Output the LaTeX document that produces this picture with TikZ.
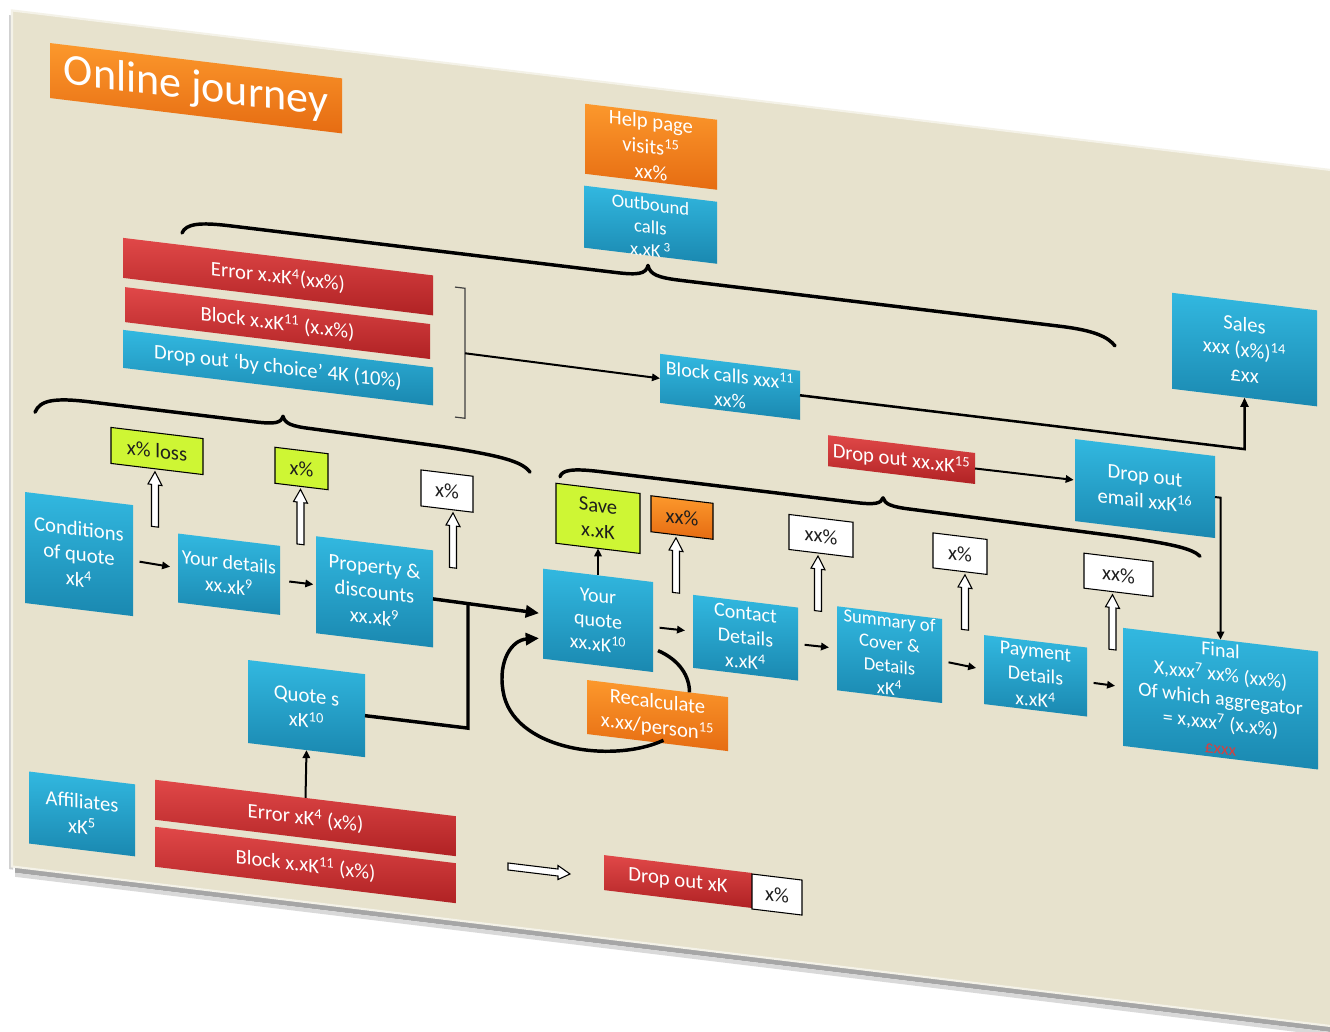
\documentclass[tikz,border=0pt]{standalone}
\usepackage{fontspec}
\setmainfont{Carlito}
\usetikzlibrary{arrows.meta,calc}
\definecolor{beige}{RGB}{231,226,205}
\definecolor{bluetop}{RGB}{50,184,224}
\definecolor{bluebot}{RGB}{26,136,176}
\definecolor{redtop}{RGB}{224,72,72}
\definecolor{redbot}{RGB}{176,34,36}
\definecolor{orgtop}{RGB}{252,152,44}
\definecolor{orgbot}{RGB}{230,108,18}
\definecolor{limeg}{RGB}{206,246,52}
\definecolor{inktxt}{RGB}{30,30,30}
\definecolor{pricered}{RGB}{214,64,64}

% box: style, name, x, y, w, h, text style, text
\newcommand\BX[8]{%
  \node[#1, minimum width=#5*0.75pt, minimum height=#6*0.75pt, anchor=north west] (#2) at (#3,#4) {};
  \node[#7] (#2-t) at (#2.center) {#8};}
% hollow up arrow under a percentage box: box name, x offset
\newcommand\HUP[2]{%
  \draw[hollow] ($(#1.south)+(#2,3)$) -- ++(7,13) -- ++(-3.5,0) -- ++(0,42) -- ++(-7,0) -- ++(0,-42) -- ++(-3.5,0) -- cycle;}

\tikzset{
  box/.style={rectangle, inner sep=0pt, outer sep=0pt},
  bluebox/.style={box, top color=bluetop, bottom color=bluebot},
  redbox/.style={box, top color=redtop, bottom color=redbot},
  orgbox/.style={box, top color=orgtop, bottom color=orgbot},
  limebox/.style={box, fill=limeg, draw=black, line width=0.8pt},
  whitebox/.style={box, fill=white, draw=black, line width=0.8pt},
  orgpbox/.style={box, top color=orgtop, bottom color=orgbot, draw=black, line width=0.8pt},
  wt/.style={inner sep=0pt, text=white, align=center, font=\fontsize{15.5}{19}\selectfont},
  wtm/.style={wt, font=\fontsize{15}{18.3}\selectfont},
  wtt/.style={wt, font=\fontsize{14}{17.1}\selectfont},
  bt/.style={inner sep=0pt, text=inktxt, align=center, font=\fontsize{15.5}{19}\selectfont},
  thinarrow/.style={line width=1.5pt, -{Triangle[length=6pt,width=5.5pt]}},
  rowarrow/.style={thinarrow, shorten <=5pt, shorten >=6pt},
  thickline/.style={line width=2.6pt},
  bigarrow/.style={thickline, -{Triangle[length=10pt,width=9pt]}},
  bracecurve/.style={line width=2.6pt, line cap=round, line join=round},
  hollow/.style={fill=white, draw=black, line width=0.8pt},
  bracketline/.style={draw=black!75, line width=0.9pt},
}

\begin{document}
\begin{tikzpicture}[x=0.75pt,y=-0.75pt]
\useasboundingbox (0,0) rectangle (1330,1031);
\clip (0,0) rectangle (1330,1031);
\fill[white] (0,0) rectangle (1330,1031);
\begin{scope}[cm={1,-0.121,0,1,(0,0)}, transform shape]
  % slide and its shadow
  \fill[black!35] (15,860) rectangle (1420,871);
  \fill[black!15] (15,871) rectangle (1420,875);
  \fill[black!18] (9,14) rectangle (13,868);
  \filldraw[fill=beige, draw=white!55!beige, line width=1.6pt] (12,9) rectangle (1420,865);

  % braces
  \draw[bracecurve] (182,211) .. controls (186,201) and (200,198) .. (230,198) -- (615,198)
     .. controls (638,198) and (646,196) .. (648,187) .. controls (650,196) and (658,198) .. (681,198)
     -- (1060,198) .. controls (1095,198) and (1108,203) .. (1115,211);
  \draw[bracecurve] (35,408) .. controls (40,395) and (55,391) .. (90,391) -- (255,391)
     .. controls (275,391) and (281,389) .. (283,382) .. controls (285,389) and (291,391) .. (311,391)
     -- (440,393) .. controls (500,395) and (522,398) .. (530,408);
  \draw[bracecurve] (560,409) .. controls (562,402) and (572,399) .. (600,399) -- (855,399)
     .. controls (875,399) and (881,397) .. (883,391) .. controls (885,397) and (891,399) .. (911,399)
     -- (1120,401) .. controls (1170,402) and (1192,404) .. (1200,411);

  % bracket
  \draw[bracketline] (455,232) -- (465,232) -- (465,362) -- (455,362);
  \coordinate (brk) at (465,297);

  % boxes
  \BX{orgbox}{title}{50}{37}{292}{55}{wt, font=\fontsize{33}{36}\selectfont}{Online journey}
  \BX{orgbox}{help}{585}{33}{132}{70}{wt}{Help page\\visits\textsuperscript{15}\\xx\%}
  \BX{bluebox}{outb}{584}{115}{133}{62}{wtt, yshift=-2pt}{Outbound\\calls\\x.xK\,\textsuperscript{3}}
  \BX{bluebox}{sales}{1172}{151}{145}{96}{wt}{Sales\\xxx (x\%)\textsuperscript{14}\\£xx}
  \BX{redbox}{err1}{123}{223}{310}{40}{wt}{Error x.xK\textsuperscript{4}(xx\%)}
  \BX{redbox}{blk1}{125}{272}{305}{35}{wt}{Block x.xK\textsuperscript{11} (x.x\%)}
  \BX{bluebox}{drop1}{123}{315}{310}{38}{wt}{Drop out ‘by choice’ 4K (10\%)}
  \BX{bluebox}{blkc}{660}{274}{140}{49}{wtm}{Block calls xxx\textsuperscript{11}\\xx\%}
  \BX{redbox}{dxk}{828}{335}{147}{31}{wt}{Drop out xx.xK\textsuperscript{15}}
  \BX{bluebox}{dem}{1075}{309}{140}{82}{wt}{Drop out\\email xxK\textsuperscript{16}}
  \BX{bluebox}{final}{1123}{492}{195}{118}{wtm}{Final\\X,xxx\textsuperscript{7} xx\% (xx\%)\\Of which aggregator\\= x,xxx\textsuperscript{7} (x.x\%)\\{\color{pricered}\fontsize{13}{18}\selectfont £xxx}}
  \BX{bluebox}{cond}{25}{489}{108}{111}{wt}{Conditions\\of quote\\xk\textsuperscript{4}}
  \BX{bluebox}{yd}{178}{512}{102}{69}{wtm}{Your details\\xx.xk\textsuperscript{9}}
  \BX{bluebox}{prop}{316}{498}{117}{97}{wt}{Property \&\\discounts\\xx.xk\textsuperscript{9}}
  \BX{bluebox}{qs}{248}{630}{117}{83}{wt}{Quote s\\xK\textsuperscript{10}}
  \BX{bluebox}{aff}{29}{768}{106}{72}{wt}{Affiliates\\xK\textsuperscript{5}}
  \BX{redbox}{err2}{155}{761}{301}{40}{wt}{Error xK\textsuperscript{4} (x\%)}
  \BX{redbox}{blk2}{155}{808}{301}{40}{wt}{Block x.xK\textsuperscript{11} (x\%)}
  \BX{bluebox}{yq}{543}{503}{110}{90}{wtm}{Your\\quote\\xx.xK\textsuperscript{10}}
  \BX{limebox}{save}{556}{416}{84}{60}{bt}{Save\\x.xK}
  \BX{orgpbox}{oxx}{651}{417}{62}{36}{bt}{xx\%}
  \BX{bluebox}{cont}{693}{511}{105}{73}{wtm}{Contact\\Details\\x.xK\textsuperscript{4}}
  \BX{orgbox}{rec}{587}{609}{141}{54}{wt}{Recalculate\\x.xx/person\textsuperscript{15}}
  \BX{bluebox}{summ}{837}{505}{105}{84}{wtt}{Summary of\\Cover \&\\Details\\xK\textsuperscript{4}}
  \BX{bluebox}{pay}{984}{516}{103}{69}{wtm}{Payment\\Details\\x.xK\textsuperscript{4}}
  \BX{limebox}{p1}{111}{414}{92}{36}{bt}{x\% loss}
  \BX{limebox}{p2}{275}{414}{53}{36}{bt}{x\%}
  \BX{whitebox}{p3}{421}{419}{52}{36}{bt}{x\%}
  \BX{whitebox}{p4}{789}{419}{64}{35}{bt}{xx\%}
  \BX{whitebox}{p5}{933}{420}{54}{35}{bt}{x\%}
  \BX{whitebox}{p6}{1084}{422}{69}{35}{bt}{xx\%}
  \BX{redbox}{dxk2}{604}{782}{148}{35}{wt}{Drop out xK}
  \BX{whitebox}{pxk2}{752}{783}{50}{35}{bt}{x\%}

  % hollow arrows
  \HUP{p1}{-2}
  \HUP{p2}{-1}
  \HUP{p3}{6}
  \HUP{oxx}{-6}
  \HUP{p4}{-3}
  \HUP{p5}{5}
  \HUP{p6}{-6}
  \coordinate (harr) at (570,805);
  \draw[hollow] (harr) -- ++(-12,-7) -- ++(0,3.5) -- ++(-50,0) -- ++(0,7) -- ++(50,0) -- ++(0,3.5) -- cycle;

  % connectors
  \draw[thinarrow] (brk) -- (blkc.west);
  \draw[line width=1.9pt, -{Triangle[length=7pt,width=6pt]}] (blkc.east) -| (sales.south);
  \draw[thinarrow, shorten >=1pt] (dxk.east) -- (dem.west);
  \draw[thinarrow] (dem.east) -| (final.north);
  \draw[rowarrow] (cond.east) -- (yd.west);
  \draw[rowarrow, shorten <=7pt, shorten >=2pt] (yd.east) -- (prop.west);
  \draw[rowarrow] (yq.east) -- (cont.west);
  \draw[rowarrow] (cont.east) -- (summ.west);
  \draw[rowarrow] (summ.east) -- (pay.west);
  \draw[rowarrow] (pay.east) -- (final.west);
  \draw[thinarrow] (yq.north) -- (save.south);
  \draw[thinarrow] (err2.north) -- (qs.south);
  \draw[bigarrow, shorten >=3pt] (prop.east) -- (yq.west);
  \coordinate (jn) at (468,547);
  \draw[thickline] (qs.east) -| (jn);
  \draw[thickline] ($(yq.east)+(5,23)$) .. controls ($(yq.east)+(27,30)$) and ($(rec.north)+(32,-16)$) .. ($(rec.north)+(32,0)$);
  \draw[bigarrow] ($(rec.south)+(6,-3)$) .. controls (612,690) and (512,688) .. (503,630)
     .. controls (498,600) and (512,578) .. ($(yq.west)+(-4,25)$);
\end{scope}
\end{tikzpicture}
\end{document}
